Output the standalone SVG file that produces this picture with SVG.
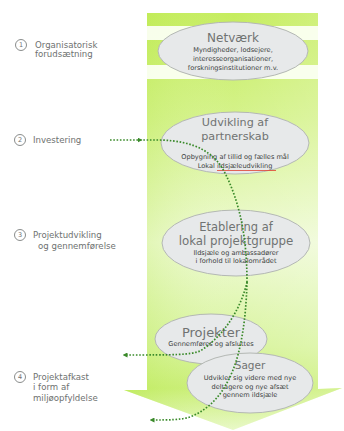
<svg xmlns="http://www.w3.org/2000/svg" width="344" height="431" viewBox="0 0 344 431">
<style>
.ell{fill:#e7e9ea;stroke:#b4b8b4;stroke-width:1}
.t{font-family:"DejaVu Sans",Verdana,sans-serif;text-anchor:middle;fill:#707372}
.s{font-family:"DejaVu Sans",Verdana,sans-serif;text-anchor:middle;fill:#3c3f3e;font-size:6.6px}
.lab{font-family:"DejaVu Sans",Verdana,sans-serif;fill:#6e7170;font-size:8.6px}
.num{font-family:"DejaVu Sans",Verdana,sans-serif;fill:#6e7170;font-size:6.5px;text-anchor:middle}
.circ{fill:#fff;stroke:#8a8d8c;stroke-width:1}
.con{fill:none;stroke:#3a8a2a;stroke-width:1.7;stroke-dasharray:1.6 1.7}
</style>
<defs>
<linearGradient id="gv" x1="0" y1="13" x2="0" y2="430" gradientUnits="userSpaceOnUse">
<stop offset="0" stop-color="#bfeb4c"/>
<stop offset="0.25" stop-color="#d0f17e"/>
<stop offset="0.55" stop-color="#edfad2"/>
<stop offset="0.8" stop-color="#d4f392"/>
<stop offset="0.9" stop-color="#c4ed66"/>
<stop offset="1" stop-color="#e6f8c2"/>
</linearGradient>
<linearGradient id="gh" x1="124" y1="0" x2="343" y2="0" gradientUnits="userSpaceOnUse">
<stop offset="0" stop-color="#b8e850" stop-opacity="0.35"/>
<stop offset="0.5" stop-color="#ffffff" stop-opacity="0.1"/>
<stop offset="1" stop-color="#ffffff" stop-opacity="0.3"/>
</linearGradient>
<marker id="ah" viewBox="0 0 10 10" refX="5" refY="5" markerWidth="5" markerHeight="5" orient="auto" markerUnits="userSpaceOnUse">
<path d="M0,0 L10,5 L0,10 Z" fill="#3a8a2a"/>
</marker>
</defs>
<rect width="344" height="431" fill="#ffffff"/>
<g id="big-arrow">
<path d="M147,13 H318 V389 L342,388 L233,430 L124,390 L147,390 Z" fill="url(#gv)"/>
<path d="M147,13 H318 V389 L342,388 L233,430 L124,390 L147,390 Z" fill="url(#gh)"/>
<rect x="147" y="26" width="171" height="14" fill="#fbfff2" opacity="0.95"/>
<rect x="147" y="65" width="171" height="14" fill="#fbfff2" opacity="0.95"/>
</g>
<g id="labels">
<g id="label-1"><circle class="circ" cx="21" cy="45" r="5.5"/><text class="num" x="21" y="47.3">1</text>
<text class="lab" x="35" y="48">Organisatorisk</text><text class="lab" x="35" y="57">forudsætning</text></g>
<g id="label-2"><circle class="circ" cx="20" cy="140" r="5.5"/><text class="num" x="20" y="142.3">2</text>
<text class="lab" x="33" y="143">Investering</text></g>
<g id="label-3"><circle class="circ" cx="20" cy="235" r="5.5"/><text class="num" x="20" y="237.3">3</text>
<text class="lab" x="33" y="238">Projektudvikling</text><text class="lab" x="38" y="249">og gennemførelse</text></g>
<g id="label-4"><circle class="circ" cx="20" cy="377" r="5.5"/><text class="num" x="20" y="379.3">4</text>
<text class="lab" x="33" y="380">Projektafkast</text><text class="lab" x="33" y="390">i form af</text><text class="lab" x="33" y="401">miljøopfyldelse</text></g>
</g>
<g id="node-netvaerk">
<ellipse class="ell" cx="233" cy="51" rx="75" ry="29"/>
<text class="t" x="233" y="42" font-size="12">Netværk</text>
<text class="s" x="233" y="52">Myndigheder, lodsejere,</text>
<text class="s" x="233" y="61">interesseorganisationer,</text>
<text class="s" x="233" y="70">forskningsinstitutioner m.v.</text>
</g>
<g id="node-partnerskab">
<ellipse class="ell" cx="235" cy="143" rx="74" ry="31"/>
<text class="t" x="235" y="126" font-size="11.2">Udvikling af</text>
<text class="t" x="235" y="140" font-size="11.2">partnerskab</text>
<text class="s" x="235" y="159">Opbygning af tillid og fælles mål</text>
<text class="s" x="235" y="168">Lokal ildsjæleudvikling</text>
<line x1="217" y1="170.5" x2="276" y2="170.5" stroke="#e04030" stroke-width="0.8"/>
</g>
<g id="node-projektgruppe">
<ellipse class="ell" cx="236" cy="243" rx="74" ry="33"/>
<text class="t" x="236" y="231" font-size="11.5">Etablering af</text>
<text class="t" x="236" y="245" font-size="11.8">lokal projektgruppe</text>
<text class="s" x="236" y="255">Ildsjæle og ambassadører</text>
<text class="s" x="236" y="263">i forhold til lokalområdet</text>
</g>
<g id="node-projekter">
<ellipse class="ell" cx="211" cy="339" rx="56" ry="25"/>
<text class="t" x="211" y="337" font-size="13">Projekter</text>
<text class="s" x="211" y="346">Gennemføres og afsluttes</text>
</g>
<g id="node-sager">
<ellipse class="ell" cx="250" cy="383" rx="63" ry="30"/>
<text class="t" x="250" y="369" font-size="10.5">Sager</text>
<text class="s" x="250" y="380">Udvikler sig videre med nye</text>
<text class="s" x="250" y="389">deltagere og nye afsæt</text>
<text class="s" x="250" y="397">gennem ildsjæle</text>
</g>
<g id="connectors">
<path class="con" d="M110,140 L140,140" marker-end="url(#ah)"/>
<path class="con" d="M140,140 L160,140 C195,141 215,152 226,175 C239,202 247,235 247,282"/>
<path class="con" d="M247,282 C242,305 226,335 200,351 C190,355 175,355 125,355" marker-end="url(#ah)"/>
<path class="con" d="M247,282 C246,320 241,350 233,370 C224,392 212,408 190,417 C180,420 170,420 152,420" marker-end="url(#ah)"/>
</g>
</svg>
